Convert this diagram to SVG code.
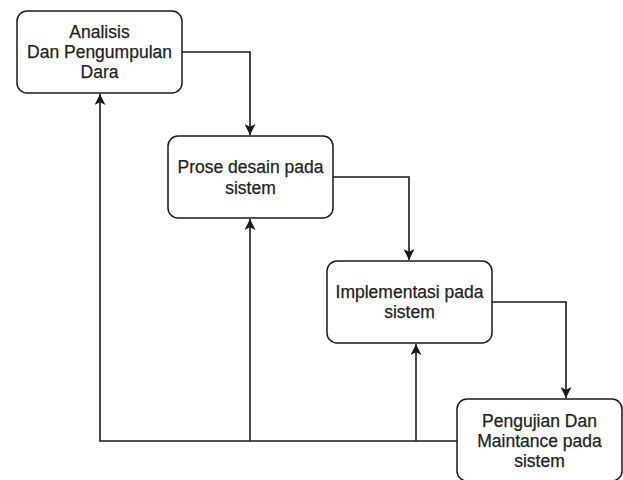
<svg xmlns="http://www.w3.org/2000/svg" width="623" height="480" viewBox="0 0 623 480">
<style>
.box{fill:#fff;stroke:#1a1a1a;stroke-width:1.5}
.t{font-family:"Liberation Sans",Arial,sans-serif;font-size:17.5px;fill:#222;stroke:#222;stroke-width:0.25;text-anchor:middle;dominant-baseline:central}
.c{fill:none;stroke:#1a1a1a;stroke-width:1.6}
</style>
<defs>
<marker id="ah" viewBox="0 0 10 10" refX="10" refY="5" markerWidth="11" markerHeight="11" markerUnits="userSpaceOnUse" orient="auto">
<path d="M0,0 L10,5 L0,10 L2.5,5 Z" fill="#1a1a1a"/>
</marker>
</defs>
<rect width="623" height="480" fill="#fff"/>
<g id="connectors">
<path class="c" d="M182,52 H250 V135" marker-end="url(#ah)"/>
<path class="c" d="M333,177 H409 V260" marker-end="url(#ah)"/>
<path class="c" d="M492,302 H566 V398" marker-end="url(#ah)"/>
<path class="c" d="M457,441 H100 V94" marker-end="url(#ah)"/>
<path class="c" d="M250,441 V219" marker-end="url(#ah)"/>
<path class="c" d="M416,441 V344" marker-end="url(#ah)"/>
</g>
<g id="node1">
<rect class="box" x="17" y="11" width="165" height="82" rx="10"/>
<text class="t" x="99.5" y="32">Analisis</text>
<text class="t" x="99.5" y="52">Dan Pengumpulan</text>
<text class="t" x="99.5" y="72">Dara</text>
</g>
<g id="node2">
<rect class="box" x="168" y="136" width="165" height="82" rx="10"/>
<text class="t" x="250.5" y="167">Prose desain pada</text>
<text class="t" x="250.5" y="188">sistem</text>
</g>
<g id="node3">
<rect class="box" x="327" y="261" width="165" height="82" rx="10"/>
<text class="t" x="409.5" y="292">Implementasi pada</text>
<text class="t" x="409.5" y="312">sistem</text>
</g>
<g id="node4">
<rect class="box" x="457" y="399" width="165" height="82" rx="10"/>
<text class="t" x="539.5" y="421">Pengujian Dan</text>
<text class="t" x="539.5" y="441">Maintance pada</text>
<text class="t" x="539.5" y="461">sistem</text>
</g>
</svg>
